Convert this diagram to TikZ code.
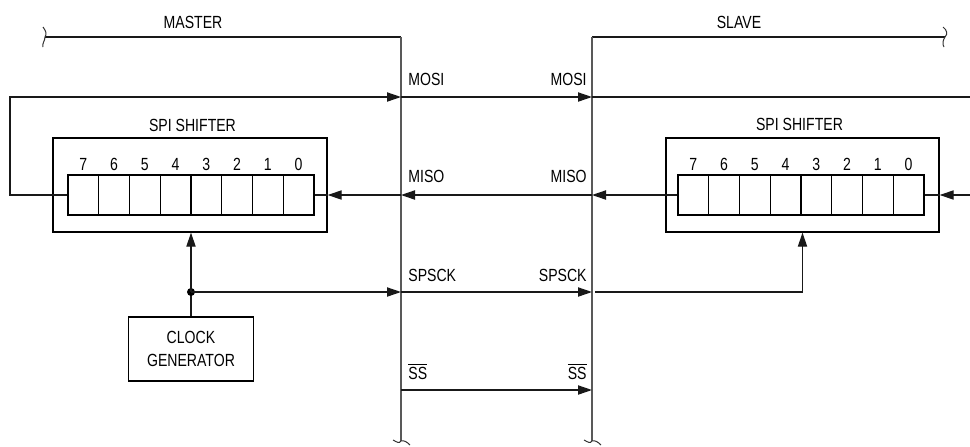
\documentclass[tikz,border=0pt]{standalone}
\usepackage{fontspec}
\setmainfont{Liberation Sans}[FakeStretch=0.8]
\usetikzlibrary{arrows.meta}

\begin{document}
\begin{tikzpicture}[
    x=0.5pt, y=-0.5pt,
    every node/.style={font=\fontsize{8.8}{11.5}\selectfont, inner sep=0pt},
    fil/.style={line width=0.65pt, draw=black!90},
    bus/.style={line width=0.8pt, draw=black!65},
    fleche/.style={fil, -{Triangle[length=7pt,width=4.6pt]}},
    cadre/.style={draw, line width=0.65pt, minimum width=#1, minimum height=47pt},
    case/.style={draw, line width=0.65pt, minimum width=15.375pt, minimum height=20pt},
    coupure/.style={line width=0.5pt, draw=black!80},
  ]
  \useasboundingbox (0,0) rectangle (970,446);

  % les deux bus
  \coordinate (mgauche) at (45,37);
  \coordinate (mhaut) at (401,37);
  \coordinate (mbas) at (401,441);
  \coordinate (sdroite) at (945,37);
  \coordinate (shaut) at (592,37);
  \coordinate (sbas) at (592,441);
  \draw[fil] (mgauche) -- (mhaut);
  \draw[fil] (shaut) -- (sdroite);
  \draw[bus] (mhaut) -- (mbas);
  \draw[bus] (shaut) -- (sbas);
  \node[anchor=base] (master) at (193,28) {MASTER};
  \node[anchor=base] (slave) at (739,28) {SLAVE};

  % coupures
  \draw[coupure] (43,27) .. controls (46,31) and (47,34) .. (mgauche) .. controls (45,41) and (42,43) .. (43,47);
  \draw[coupure] (943,27) .. controls (947,30) and (948,34) .. (sdroite) .. controls (943,40) and (942,44) .. (944,47);
  \draw[coupure] (393,440) .. controls (397,442) and (399,444) .. (mbas) .. controls (404,440) and (407,442) .. (410,445);
  \draw[coupure] (584,440) .. controls (588,442) and (590,444) .. (sbas) .. controls (595,440) and (598,442) .. (601,445);

  % registres
  \node[cadre=137pt] (mshift) at (190,185) {};
  \node[anchor=base] (mtitre) at (192.5,131) {SPI SHIFTER};
  \node[cadre=136.5pt] (sshift) at (802.5,185) {};
  \node[anchor=base] (stitre) at (799.5,130) {SPI SHIFTER};
  \foreach \n [count=\k from 0] in {7,...,0} {
    \node[case] (m\n) at ({68+30.75*(\k+0.5)},195) {};
    \node[anchor=base] (mn\n) at ({68+30.75*(\k+0.5)},170) {\n};
    \node[case] (s\n) at ({678+30.75*(\k+0.5)},195) {};
    \node[anchor=base] (sn\n) at ({678+30.75*(\k+0.5)},170) {\n};
  }

  \node[draw, line width=0.65pt, minimum width=62.5pt, minimum height=32pt, align=center]
    (horloge) at (191,349) {CLOCK\\GENERATOR};

  % MOSI
  \coordinate (boucle) at (10,97);
  \coordinate (droite) at (970,0);
  \draw[fleche] (m7.west) -| (boucle) -- (boucle -| mhaut);
  \draw[fleche] (boucle -| mhaut) -- (boucle -| shaut);
  \draw[fil] (boucle -| shaut) -- (boucle -| droite);
  \node[anchor=base west] (mosim) at (408,85) {MOSI};
  \node[anchor=base east] (mosis) at (587,85) {MOSI};

  % MISO
  \coordinate (miso) at (970,195);
  \draw[fleche] (miso) -- (sshift.east |- miso);
  \draw[fil] (s0.east) -- (sshift.east |- miso);
  \draw[fleche] (s7.west) -- (shaut |- miso);
  \draw[fleche] (shaut |- miso) -- (mhaut |- miso);
  \draw[fleche] (mhaut |- miso) -- (mshift.east |- miso);
  \draw[fil] (m0.east) -- (mshift.east |- miso);
  \node[anchor=base west] (misom) at (408,182) {MISO};
  \node[anchor=base east] (misos) at (587,182) {MISO};

  % SPSCK
  \coordinate (pt) at (191,292);
  \draw[fil] (horloge.north) -- (pt);
  \fill (pt) circle (2pt);
  \draw[fleche] (pt) -- (pt |- mshift.south);
  \draw[fleche] (pt) -- (pt -| mhaut);
  \draw[fleche] (pt -| mhaut) -- (pt -| shaut);
  \draw[fleche] ([xshift=1.5pt]pt -| shaut) -| (sshift.south);
  \node[anchor=base west] (sckm) at (408,281) {SPSCK};
  \node[anchor=base east] (scks) at (587,281) {SPSCK};

  % SS
  \coordinate (ss) at (0,390);
  \draw[fleche] (ss -| mhaut) -- (ss -| shaut);
  \node[anchor=base west] (ssm) at (408,379) {$\overline{\mbox{SS}}$};
  \node[anchor=base east] (sss) at (587,379) {$\overline{\mbox{SS}}$};
\end{tikzpicture}
\end{document}
